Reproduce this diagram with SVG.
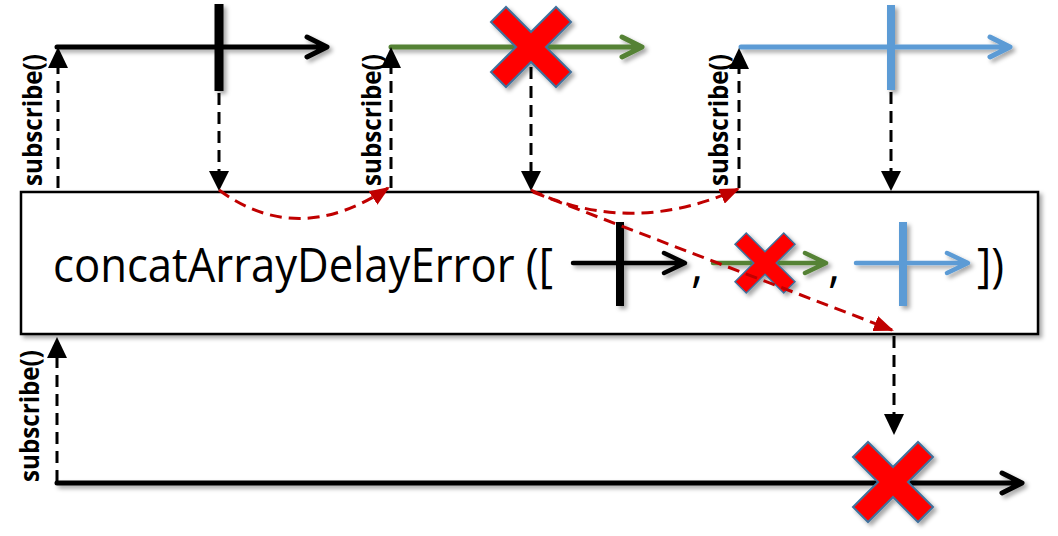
<svg xmlns="http://www.w3.org/2000/svg" width="1058" height="536" viewBox="0 0 1058 536">
<defs>
<filter id="sh" x="-20%" y="-20%" width="140%" height="140%">
<feDropShadow dx="3" dy="3" stdDeviation="2" flood-color="#000" flood-opacity="0.35"/>
</filter>
<marker id="redhead" viewBox="0 0 20 16" refX="18" refY="8" markerWidth="20" markerHeight="16" markerUnits="userSpaceOnUse" orient="auto">
<path d="M0,0 L20,8 L0,16 z" fill="#C00000"/>
</marker>
<symbol id="xbig" viewBox="-40 -40 80 80" overflow="visible">
<polygon points="-40,-25 -25,-40 0,-15 25,-40 40,-25 15,0 40,25 25,40 0,15 -25,40 -40,25 -15,0" fill="#FF0000" stroke="#41719C" stroke-width="2" stroke-linejoin="miter"/>
</symbol>
</defs>
<style>
.tl{fill:none;stroke-width:5;stroke-linecap:round;stroke-linejoin:round}
.tli{fill:none;stroke-width:4.5;stroke-linecap:round;stroke-linejoin:round}
.blk{stroke:#000}
.grn{stroke:#548235}
.blu{stroke:#5B9BD5}
.dash{fill:none;stroke:#000;stroke-width:3;stroke-dasharray:12 7}
.rdash{fill:none;stroke:#C00000;stroke-width:3;stroke-dasharray:12 7}
.head{fill:#000}
.sub{font-family:"Open Sans","Liberation Sans",sans-serif;font-weight:bold;font-size:27px;fill:#000}
.op{font-family:"Open Sans","Liberation Sans",sans-serif;font-size:47px;fill:#000}
</style>

<g id="operator">
<rect x="21" y="192" width="1017" height="142" fill="#fff" stroke="#000" stroke-width="2.5" filter="url(#sh)"/>
<text class="op" x="53" y="282" textLength="500" lengthAdjust="spacingAndGlyphs">concatArrayDelayError ([</text>
<text class="op" x="691" y="282">,</text>
<text class="op" x="828" y="282">,</text>
<text class="op" x="977" y="282" textLength="27" lengthAdjust="spacingAndGlyphs">])</text>
<g filter="url(#sh)">
<path class="tli blk" d="M573,263 H684 M664,253 L685,263 L664,273"/>
<line x1="620" y1="222" x2="620" y2="306" stroke="#000" stroke-width="8"/>
<path class="tli grn" d="M713,263 H825 M805,253 L826,263 L805,273"/>
<use href="#xbig" x="735" y="233" width="60" height="60"/>
<path class="tli blu" d="M856,263 H967 M947,253 L968,263 L947,273"/>
<line x1="903" y1="222" x2="903" y2="306" stroke="#5B9BD5" stroke-width="8"/>
</g>
</g>

<g id="source1" filter="url(#sh)">
<path class="tl blk" d="M57,47 H325 M307,37 L327,47 L307,57"/>
<line x1="219" y1="4" x2="219" y2="91" stroke="#000" stroke-width="9"/>
</g>

<g id="source2" filter="url(#sh)">
<path class="tl grn" d="M391,47 H640 M622,37 L642,47 L622,57"/>
<use href="#xbig" x="491" y="7" width="80" height="80"/>
</g>

<g id="source3" filter="url(#sh)">
<path class="tl blu" d="M741,47 H1008 M990,37 L1010,47 L990,57"/>
<line x1="891" y1="5" x2="891" y2="90" stroke="#5B9BD5" stroke-width="8"/>
</g>

<g id="output" filter="url(#sh)">
<path class="tl blk" d="M57,483 H1020 M1002,473 L1022,483 L1002,493"/>
<use href="#xbig" x="853" y="442" width="80" height="80"/>
</g>

<g id="labels">
<text class="sub" transform="translate(42,120) rotate(-90)" text-anchor="middle" textLength="132" lengthAdjust="spacingAndGlyphs">subscribe()</text>
<text class="sub" transform="translate(381,120) rotate(-90)" text-anchor="middle" textLength="132" lengthAdjust="spacingAndGlyphs">subscribe()</text>
<text class="sub" transform="translate(728,120) rotate(-90)" text-anchor="middle" textLength="132" lengthAdjust="spacingAndGlyphs">subscribe()</text>
<text class="sub" transform="translate(39,416) rotate(-90)" text-anchor="middle" textLength="132" lengthAdjust="spacingAndGlyphs">subscribe()</text>
</g>

<g id="connectors">
<line class="dash" x1="58" y1="188" x2="58" y2="66"/>
<polygon class="head" points="58,47 68,68 48,68"/>
<line class="dash" x1="391" y1="188" x2="391" y2="66"/>
<polygon class="head" points="391,47 401,68 381,68"/>
<line class="dash" x1="739" y1="188" x2="739" y2="66"/>
<polygon class="head" points="739,48 749,69 729,69"/>
<line class="dash" x1="57" y1="482" x2="57" y2="356"/>
<polygon class="head" points="57,337 67,358 47,358"/>

<line class="dash" x1="219" y1="93" x2="219" y2="173"/>
<polygon class="head" points="219,191 209,171 229,171"/>
<line class="dash" x1="531" y1="67" x2="531" y2="173"/>
<polygon class="head" points="531,191 521,171 541,171"/>
<line class="dash" x1="891" y1="92" x2="891" y2="173"/>
<polygon class="head" points="891,191 881,171 901,171"/>
<line class="dash" x1="894" y1="336" x2="894" y2="416"/>
<polygon class="head" points="894,435 884,414 904,414"/>

<path class="rdash" d="M219,190 Q298,248 388,188" marker-end="url(#redhead)"/>
<path class="rdash" d="M531,190 Q630,237 738,189" marker-end="url(#redhead)"/>
<path class="rdash" d="M533,192 L892,330" marker-end="url(#redhead)"/>
</g>
</svg>
